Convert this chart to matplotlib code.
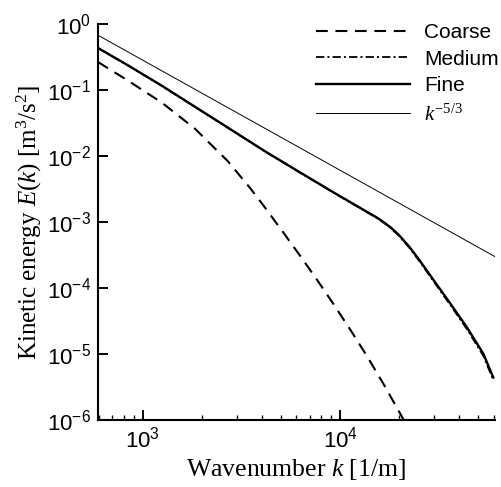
import matplotlib
matplotlib.use("Agg")
import matplotlib.pyplot as plt
from matplotlib.ticker import LogLocator, NullLocator, NullFormatter, LogFormatterSciNotation

plt.rcParams['font.family'] = 'Liberation Sans'
plt.rcParams['mathtext.fontset'] = 'custom'
plt.rcParams['mathtext.rm'] = 'Liberation Serif'
plt.rcParams['mathtext.it'] = 'Liberation Serif:italic'
plt.rcParams['lines.scale_dashes'] = False

# energy spectra on three grids
k_coarse = [592, 839, 1248, 1837, 2698, 3490, 4018, 5140, 6266, 7638, 9204,
            11246, 13709, 16520, 20650, 22900]
E_coarse = [0.265, 0.139, 0.0643, 0.0259, 0.00832, 0.00329, 0.00190, 7.0e-4,
            3.08e-4, 1.33e-4, 5.85e-5, 2.35e-5, 9.2e-6, 3.6e-6, 1.1e-6, 6.3e-7]

k_fine = [592, 839, 1248, 1837, 2698, 4159, 6266, 9204, 13709, 15136, 16596,
          18197, 19953, 22387, 25119, 29512, 36308, 44157, 53211, 59841]
E_fine = [0.433, 0.237, 0.116, 0.0557, 0.0269, 0.0118, 0.00564, 0.00284,
          0.00142, 0.00120, 0.00100, 8.1e-4, 6.27e-4, 4.24e-4, 2.70e-4,
          1.37e-4, 5.75e-5, 2.48e-5, 1.01e-5, 4.4e-6]

k_medium = [592, 839, 1248, 1837, 2698, 4159, 6266, 9204, 13709, 15136, 16596,
            18197, 19953, 22387, 25119, 29512, 36308, 44157, 53211, 59841]
E_medium = [0.431, 0.236, 0.115, 0.0554, 0.0267, 0.0117, 0.00558, 0.00281,
            0.00140, 0.00118, 9.8e-4, 7.9e-4, 6.1e-4, 4.1e-4, 2.6e-4,
            1.31e-4, 5.45e-5, 2.33e-5, 9.4e-6, 4.0e-6]

# Kolmogorov -5/3 reference line
k_ref = [590, 61000]
C_ref = 0.68 * 590 ** (5 / 3)
E_ref = [C_ref * k ** (-5 / 3) for k in k_ref]

fig = plt.figure(figsize=(5.01, 4.87), dpi=100)
ax = fig.add_axes([98 / 501, 1 - 420 / 487, (495 - 98) / 501, (420 - 24) / 487])

ax.plot(k_coarse, E_coarse, color='k', lw=1.5, dashes=(8.5, 5.5), label='Coarse')
ax.plot(k_medium, E_medium, color='k', lw=1.3, dashes=(6, 2.2, 1.5, 2.2), label='Medium')
ax.plot(k_fine, E_fine, color='k', lw=1.7, label='Fine')
ax.plot(k_ref, E_ref, color='k', lw=0.7, label='$k^{-5/3}$')

ax.set_xscale('log')
ax.set_yscale('log')
ax.set_xlim(592, 61000)
ax.set_ylim(1e-6, 1)

ax.xaxis.set_major_locator(LogLocator(base=10, numticks=10))
ax.xaxis.set_minor_locator(LogLocator(base=10, subs=range(2, 10), numticks=20))
ax.xaxis.set_minor_formatter(NullFormatter())
ax.yaxis.set_major_locator(LogLocator(base=10, numticks=10))
ax.yaxis.set_minor_locator(NullLocator())
ax.xaxis.set_major_formatter(LogFormatterSciNotation())
ax.yaxis.set_major_formatter(LogFormatterSciNotation())

for side in ['top', 'right']:
    ax.spines[side].set_visible(False)
for side in ['left', 'bottom']:
    ax.spines[side].set_linewidth(1.5)

ax.tick_params(which='major', direction='in', length=7, width=1.4, labelsize=16, pad=5)
ax.tick_params(which='minor', direction='in', length=3.5, width=1.0)

ax.set_xlabel('Wavenumber $k$ [1/m]', fontsize=18.5, family='Liberation Serif', labelpad=3)
ax.set_ylabel('Kinetic energy $E(k)$ [m$^3$/s$^2$]', fontsize=18,
              family='Liberation Serif', labelpad=2)

leg = ax.legend(loc='upper left', bbox_to_anchor=(316 / 501, 1 - 23 / 487),
                bbox_transform=fig.transFigure, frameon=False, fontsize=15,
                handlelength=4.5, handletextpad=0.7, labelspacing=0.37,
                borderpad=0, borderaxespad=0)

fig.savefig('out.png', dpi=100)
